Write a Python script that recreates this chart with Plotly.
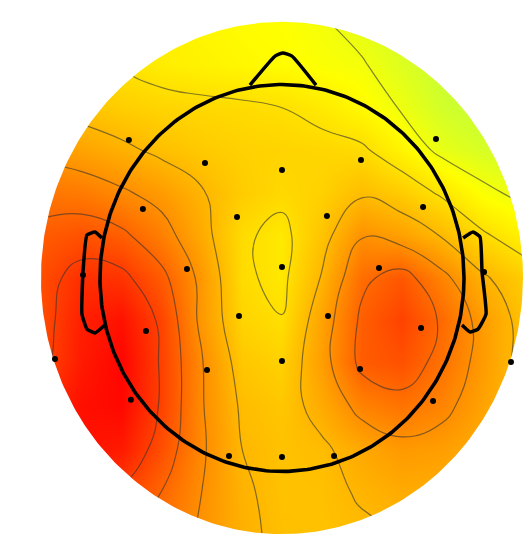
import numpy as np
import plotly.graph_objects as go

# Head-relative coordinates (head radius = 1)
grid_x = [-1.32, -1.10, -0.88, -0.66, -0.44, -0.22, 0.0, 0.22, 0.44, 0.66, 0.88, 1.10, 1.32]
grid_y = [1.32, 1.10, 0.88, 0.66, 0.44, 0.22, 0.0, -0.22, -0.44, -0.66, -0.88, -1.10, -1.32]

row_01 = [.10, .10, .08, .06, .03, .01, .00, -.03, -.08, -.14, -.18, -.20, -.22]
row_02 = [.25, .18, .11, .07, .05, .03, .01, -.01, -.03, -.10, -.17, -.20, -.22]
row_03 = [.27, .23, .19, .165, .15, .14, .12, .08, .02, -.05, -.14, -.18, -.20]
row_04 = [.40, .36, .31, .25, .21, .18, .17, .16, .14, .04, -.07, -.12, -.15]
row_05 = [.54, .52, .46, .39, .29, .20, .15, .18, .26, .20, .10, -.01, -.07]
row_06 = [.64, .68, .63, .50, .33, .14, .085, .23, .43, .37, .27, .14, .05]
row_07 = [.70, .82, .80, .64, .40, .14, .09, .29, .57, .66, .48, .30, .20]
row_08 = [.70, .88, .93, .73, .40, .17, .125, .36, .63, .74, .58, .39, .24]
row_09 = [.72, .90, .98, .74, .45, .22, .18, .38, .64, .68, .55, .39, .24]
row_10 = [.82, .94, .97, .74, .45, .26, .22, .33, .49, .55, .48, .36, .25]
row_11 = [.82, .93, .90, .69, .46, .28, .24, .26, .34, .40, .38, .32, .25]
row_12 = [.78, .80, .75, .60, .44, .30, .24, .245, .295, .33, .32, .28, .24]
row_13 = [.65, .68, .62, .53, .42, .31, .25, .24, .26, .27, .27, .26, .22]
amplitude = [row_01, row_02, row_03, row_04, row_05, row_06, row_07,
             row_08, row_09, row_10, row_11, row_12, row_13]

electrode_x = [-.841, -.423, 0, .434, .846, -.764, -.247, .247, .775, -.522, 0, .533, -1.093, 1.110,
               -.747, -.236, .253, .764, -1.247, -.412, 0, .429, 1.258, -.830, .830, -.291, 0, .286]
electrode_y = [.713, .594, .558, .610, .718, .357, .315, .320, .367, .047, .057, .052, .016, .031,
               -.274, -.196, -.196, -.258, -.419, -.475, -.429, -.470, -.434, -.630, -.636, -.920, -.925, -.920]

nose_x = [-.176, -.038, .005, .055, .187]
nose_y = [.997, 1.147, 1.163, 1.147, .997]
ear_l_x = [-.989, -1.027, -1.071, -1.093, -1.099, -1.071, -1.027, -.973]
ear_l_y = [.207, .238, .222, .031, -.186, -.264, -.284, -.243]
ear_r_x = [.995, 1.049, 1.088, 1.099, 1.121, 1.077, 1.033, .989]
ear_r_y = [.207, .238, .212, .031, -.186, -.264, -.279, -.243]

contour_start, contour_end, contour_step = -0.04, 0.76, 0.16
COLORSCALE = [[0, "rgb(190,255,60)"], [0.1667, "rgb(255,255,0)"], [1, "rgb(255,0,0)"]]
X_RANGE = [-1.549, 1.335]
Y_RANGE = [-1.375, 1.437]
MASK_R = 1.324

fig = go.Figure()
fig.add_trace(go.Heatmap(x=grid_x, y=grid_y, z=amplitude, zmin=-0.2, zmax=1,
                         colorscale=COLORSCALE, zsmooth="best", showscale=False,
                         hoverinfo="skip"))
fig.add_trace(go.Contour(x=grid_x, y=grid_y, z=amplitude, showscale=False,
                         contours=dict(coloring="none", start=contour_start,
                                       end=contour_end, size=contour_step),
                         line=dict(color="rgba(50,50,50,0.6)", width=1.2, smoothing=1.3),
                         hoverinfo="skip"))

# white mask outside the scalp disc
t = np.linspace(0, 2 * np.pi, 361)
mx = [-3, 3, 3, -3, -3, None] + list(MASK_R * np.cos(-t))
my = [-3, -3, 3, 3, -3, None] + list(MASK_R * np.sin(-t))
fig.add_trace(go.Scatter(x=mx, y=my, mode="lines", fill="toself", fillcolor="white",
                         line=dict(width=0, color="white"), hoverinfo="skip"))

outline = dict(color="black", width=3.5, shape="spline", smoothing=0.4)
for ox, oy in [(nose_x, nose_y), (ear_l_x, ear_l_y), (ear_r_x, ear_r_y)]:
    fig.add_trace(go.Scatter(x=ox, y=oy, mode="lines", line=outline, hoverinfo="skip"))
fig.add_trace(go.Scatter(x=list(np.cos(t)), y=list(np.sin(t)), mode="lines",
                         line=dict(color="black", width=3.6), hoverinfo="skip"))
fig.add_trace(go.Scatter(x=electrode_x, y=electrode_y, mode="markers",
                         marker=dict(color="black", size=6), hoverinfo="skip"))

fig.update_layout(width=525, height=544, margin=dict(l=0, r=0, t=0, b=0),
                  paper_bgcolor="white", plot_bgcolor="white", showlegend=False,
                  xaxis=dict(visible=False, range=X_RANGE, fixedrange=True),
                  yaxis=dict(visible=False, range=Y_RANGE, fixedrange=True))
fig.write_html("out.html", config={"displayModeBar": False},
               post_script="document.body.style.margin='0';")
